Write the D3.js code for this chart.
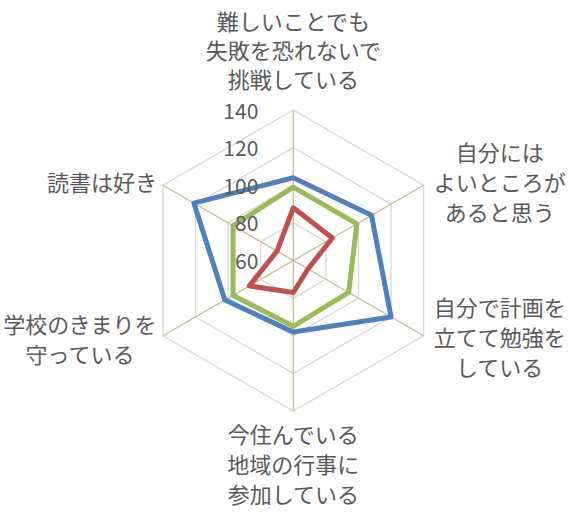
<!DOCTYPE html>
<html>

<head>
    <meta charset="UTF-8" />
    <title>radar</title>
    <style>
        body {
            margin: 0;
            padding: 0;
            background: #fff;
            font-family: 'Noto Sans CJK JP', 'Noto Sans', sans-serif;
        }

        svg {
            display: block;
        }
    </style>
</head>

<body>
    <div class="container"></div>

    <script src="https://cdnjs.cloudflare.com/ajax/libs/d3/7.8.5/d3.min.js"></script>
    <script>
        // axes, clockwise from the top
        const categories = [
            ['難しいことでも', '失敗を恐れないで', '挑戦している'],
            ['自分には', 'よいところが', 'あると思う'],
            ['自分で計画を', '立てて勉強を', 'している'],
            ['今住んでいる', '地域の行事に', '参加している'],
            ['学校のきまりを', '守っている'],
            ['読書は好き']
        ]
        const blueValues = [104, 108, 120, 98, 102, 121]
        const greenValues = [99, 99, 94, 95, 97, 97]
        const redValues = [88, 84, 69, 77, 87, 70]
        const tickValues = [60, 80, 100, 120, 140]

        const series = [
            { values: blueValues, color: '#4f81bd' },
            { values: greenValues, color: '#9bbb59' },
            { values: redValues, color: '#c0504d' }
        ]

        const drawChart = () => {
            const width = 577
            const height = 512
            const cx = 293.3, cy = 260.5
            const R = 150.5

            const r = d3.scaleLinear().domain([60, 140]).range([0, R])
            const angle = d3.scaleLinear().domain([0, categories.length]).range([0, 2 * Math.PI])
            const pt = (i, v) => {
                const a = angle(i)
                return [cx + r(v) * Math.sin(a), cy - r(v) * Math.cos(a)]
            }

            const svg = d3.select('.container').append('svg')
                .attr('width', width)
                .attr('height', height)

            // hexagon rings
            const ring = d3.line()
            svg.append('g')
                .selectAll('path')
                .data(tickValues.slice(1))
                .join('path')
                .attr('d', v => ring(categories.map((_, i) => pt(i, v))) + 'Z')
                .attr('fill', 'none')
                .attr('stroke', '#d9d9d9')
                .attr('stroke-width', 1.3)

            // spokes
            svg.append('g')
                .selectAll('line')
                .data(categories)
                .join('line')
                .attr('x1', cx).attr('y1', cy)
                .attr('x2', (_, i) => pt(i, 140)[0])
                .attr('y2', (_, i) => pt(i, 140)[1])
                .attr('stroke', '#c4bd97')
                .attr('stroke-width', 1.3)

            // series
            const line = d3.lineRadial()
                .angle((_, i) => angle(i))
                .radius(d => r(d))
                .curve(d3.curveLinearClosed)

            svg.append('g')
                .attr('transform', `translate(${cx},${cy})`)
                .selectAll('path')
                .data(series)
                .join('path')
                .attr('d', d => line(d.values))
                .attr('fill', 'none')
                .attr('stroke', d => d.color)
                .attr('stroke-width', 5)
                .attr('stroke-linejoin', 'round')

            // tick labels
            svg.append('g')
                .selectAll('text')
                .data(tickValues)
                .join('text')
                .attr('x', cx - 35)
                .attr('y', v => cy - r(v) + 1)
                .attr('dy', '0.36em')
                .attr('text-anchor', 'end')
                .attr('fill', '#595959')
                .attr('font-size', 21)
                .text(v => v)

            // category labels
            const labels = svg.append('g')
                .attr('fill', '#595959')
                .attr('font-size', 22)
                .attr('text-anchor', 'middle')

            categories.forEach((lines, i) => {
                const [vx, vy] = pt(i, 140)
                const n = lines.length
                let x, yTop, lh = 30
                if (i === 0) {
                    lh = 29
                    x = vx
                    yTop = vy - 15 - n * lh
                } else if (i === 3) {
                    x = vx
                    yTop = vy + 9
                } else {
                    const w = d3.max(lines, s => s.length) * 22
                    x = i < 3 ? vx + 10 + w / 2 : vx - 6 - w / 2
                    yTop = vy - n * lh / 2 + (i === 2 ? 2 : i === 4 ? 4 : -2)
                }
                labels.append('text')
                    .selectAll('tspan')
                    .data(lines)
                    .join('tspan')
                    .attr('x', x)
                    .attr('y', (_, k) => yTop + k * lh + lh / 2)
                    .attr('dy', '0.36em')
                    .text(s => s)
            })
        }

        drawChart()
    </script>
</body>

</html>
